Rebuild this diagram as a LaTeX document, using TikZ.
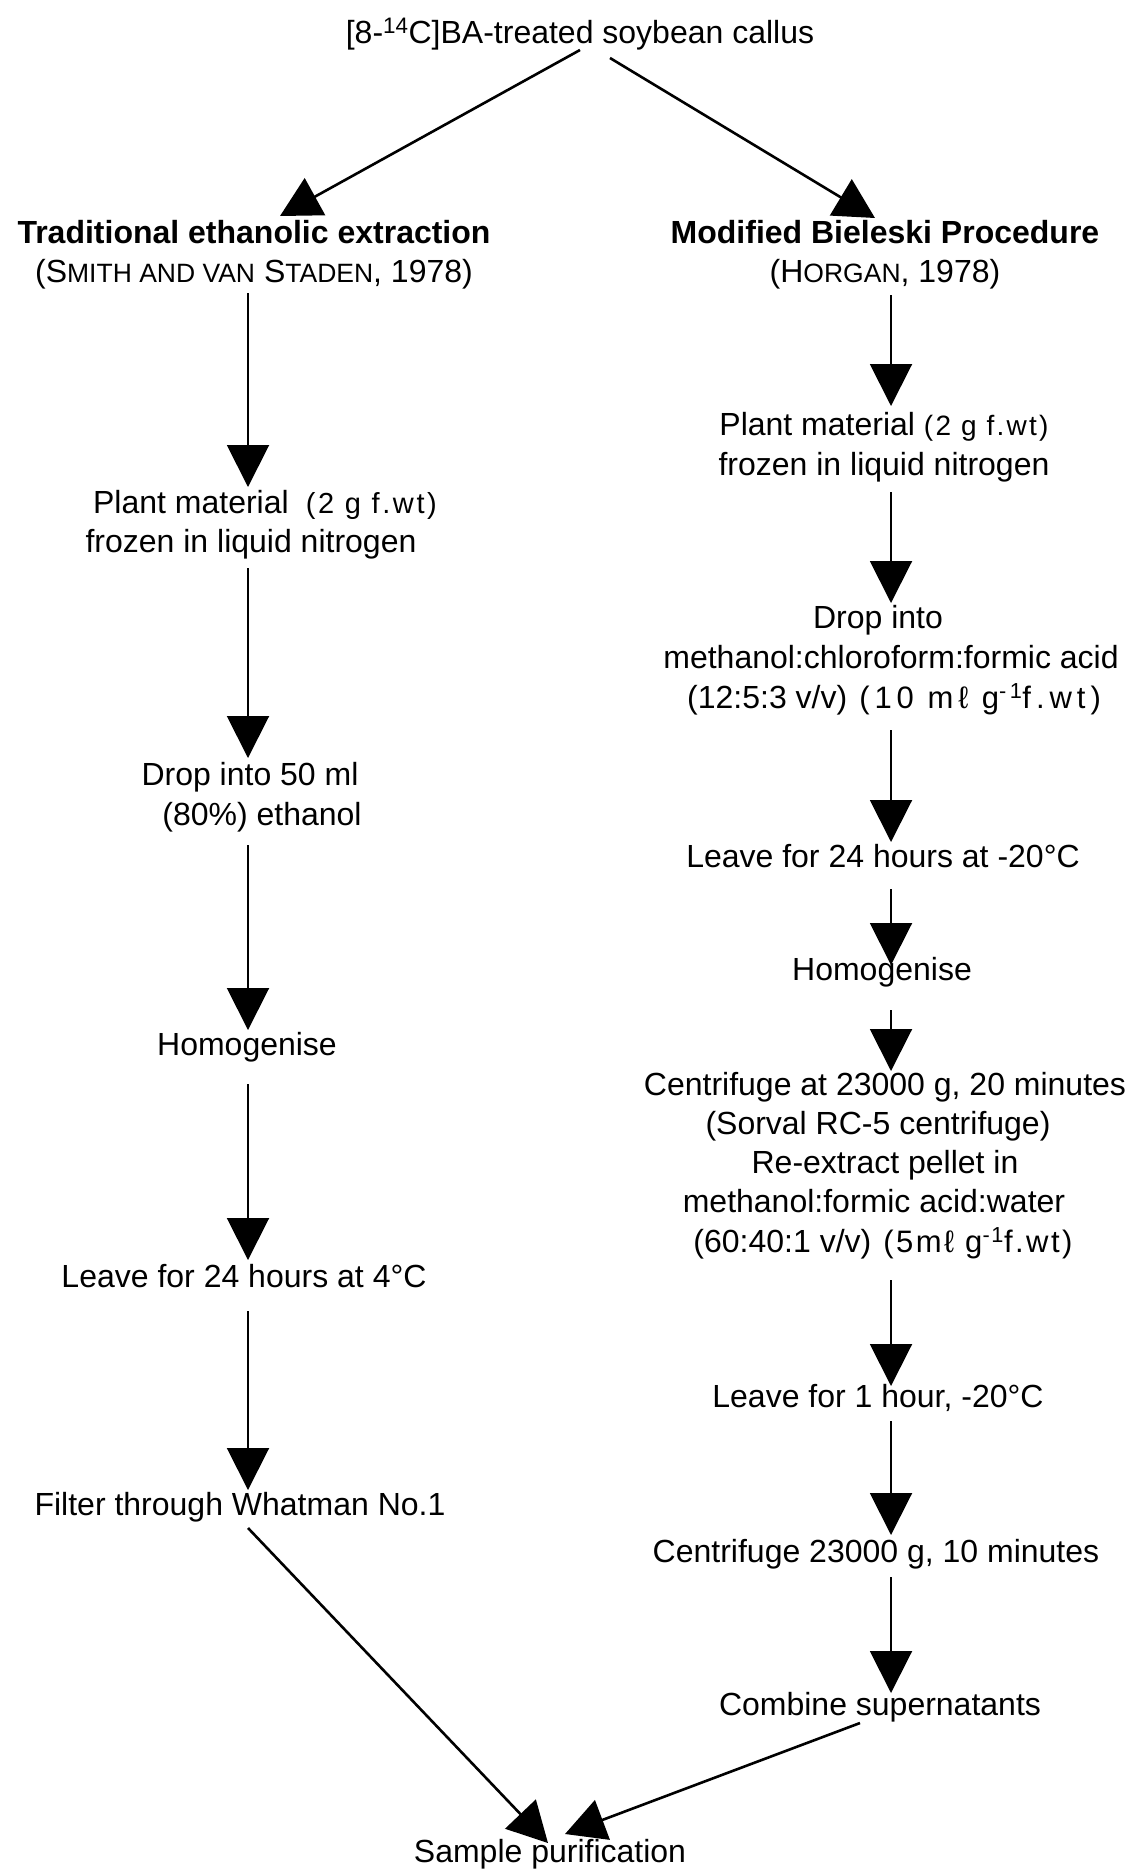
\documentclass[tikz,border=0pt]{standalone}
\usepackage{fontspec}
\setmainfont{Liberation Sans}
\newfontfamily\spfont[LetterSpace=8]{Liberation Sans}
\newfontfamily\spfontb[LetterSpace=9]{Liberation Sans}
\newfontfamily\spfontw[LetterSpace=16]{Liberation Sans}
\usetikzlibrary{arrows.meta,calc}
\newcommand\smc[1]{{\fontsize{26.5}{30}\selectfont #1}}
\newcommand\spc[1]{{\spfont\fontsize{28}{30}\selectfont #1}}
\newcommand\spcb[1]{{\spfontb\fontsize{29}{30}\selectfont #1}}
\newcommand\spcw[1]{{\spfontw\fontsize{31}{30}\selectfont #1}}
\newcommand\spcm[1]{{\spfont\fontsize{31}{30}\selectfont #1}}
\begin{document}
\begin{tikzpicture}[x=1pt,y=-1pt,
  every node/.style={inner sep=0pt,font=\fontsize{32}{38}\selectfont},
  txt/.style={anchor=base},
  arr/.style={-{Triangle[length=42pt,width=42pt]},line width=2pt},
  diag/.style={-{Triangle[length=40pt,width=42pt]},line width=2.6pt}]
\useasboundingbox (0,0) rectangle (1130,1872);
\coordinate (cL) at (248,0);
\coordinate (cR) at (891,0);
% title and headers
\node[txt] (title) at (580,43) {[8-\textsuperscript{14}C]BA-treated soybean callus};
\node[txt] (hL1) at (254,243) {\bfseries Traditional ethanolic extraction};
\node[txt] (hL2) at (254,282) {(S\smc{MITH AND VAN} S\smc{TADEN}, 1978)};
\node[txt] (hR1) at (885,243) {\bfseries Modified Bieleski Procedure};
\node[txt] (hR2) at (885,282) {(H\smc{ORGAN}, 1978)};
\draw[diag] ($(title.base)+(0,7)$) -- ($(hL1.base)+(26,-27)$);
\draw[diag] ($(title.base)+(30,15)$) -- ($(hR1.base)+(-10,-25)$);
% left column
\node[txt] (l1a) at (265,513) {Plant material\hspace{17pt}\spcb{(2 g f.wt)}};
\node[txt] (l1b) at (251,552) {frozen in liquid nitrogen};
\node[txt] (l2a) at (250,785) {Drop into 50 ml};
\node[txt] (l2b) at (262,825) {(80\%) ethanol};
\node[txt] (l3) at (247,1055) {Homogenise};
\node[txt] (l4) at (244,1287) {Leave for 24 hours at 4°C};
\node[txt] (l5) at (240,1515) {Filter through Whatman No.1};
\node[txt] (sp) at (550,1862) {Sample purification};
\draw[arr] ($(hL2.base -| cL)+(0,11)$) -- ($(l1a.base -| cL)+(0,-26)$);
\draw[arr] ($(l1b.base -| cL)+(0,16)$) -- ($(l2a.base -| cL)+(0,-27)$);
\draw[arr] ($(l2b.base -| cL)+(0,20)$) -- ($(l3.base -| cL)+(0,-25)$);
\draw[arr] ($(l3.base -| cL)+(0,29)$) -- ($(l4.base -| cL)+(0,-27)$);
\draw[arr] ($(l4.base -| cL)+(0,24)$) -- ($(l5.base -| cL)+(0,-25)$);
\draw[diag] ($(l5.base -| cL)+(0,13)$) -- ($(sp.base)+(-2,-19)$);
% right column
\node[txt] (r1a) at (884,435) {Plant material \spc{(2 g f.wt)}};
\node[txt] (r1b) at (884,475) {frozen in liquid nitrogen};
\node[txt] (r2a) at (878,628) {Drop into};
\node[txt] (r2b) at (891,668) {methanol:chloroform:formic acid};
\node[txt] (r2c) at (894,708) {(12:5:3 v/v)\hspace{12pt}\spcw{(10 mℓ g\textsuperscript{-1}f.wt)}};
\node[txt] (r3) at (883,867) {Leave for 24 hours at -20°C};
\node[txt] (r4) at (882,980) {Homogenise};
\node[txt] (r5a) at (885,1095) {Centrifuge at 23000 g, 20 minutes};
\node[txt] (r5b) at (878,1134) {(Sorval RC-5 centrifuge)};
\node[txt] (r5c) at (885,1173) {Re-extract pellet in};
\node[txt] (r5d) at (874,1212) {methanol:formic acid:water};
\node[txt] (r5e) at (883,1252) {(60:40:1 v/v)\hspace{12pt}\spcm{(5mℓ g\textsuperscript{-1}f.wt)}};
\node[txt] (r6) at (878,1407) {Leave for 1 hour, -20°C};
\node[txt] (r7) at (876,1562) {Centrifuge 23000 g, 10 minutes};
\node[txt] (r8) at (880,1715) {Combine supernatants};
\draw[arr] ($(hR2.base -| cR)+(0,13)$) -- ($(r1a.base -| cR)+(0,-29)$);
\draw[arr] ($(r1b.base -| cR)+(0,17)$) -- ($(r2a.base -| cR)+(0,-25)$);
\draw[arr] ($(r2c.base -| cR)+(0,22)$) -- ($(r3.base -| cR)+(0,-25)$);
\draw[arr] ($(r3.base -| cR)+(0,22)$) -- ($(r4.base -| cR)+(0,-15)$);
\draw[arr] ($(r4.base -| cR)+(0,30)$) -- ($(r5a.base -| cR)+(0,-24)$);
\draw[arr] ($(r5e.base -| cR)+(0,28)$) -- ($(r6.base -| cR)+(0,-21)$);
\draw[arr] ($(r6.base -| cR)+(0,14)$) -- ($(r7.base -| cR)+(0,-27)$);
\draw[arr] ($(r7.base -| cR)+(0,15)$) -- ($(r8.base -| cR)+(0,-22)$);
\draw[diag] ($(r8.base)+(-20,8)$) -- ($(sp.base)+(15,-28)$);
\end{tikzpicture}
\end{document}
